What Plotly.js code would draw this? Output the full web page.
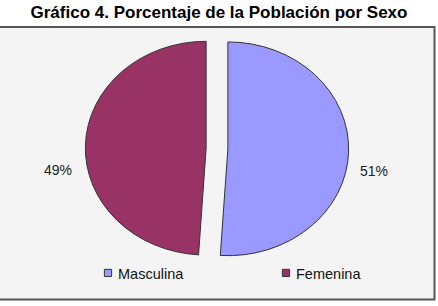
<!DOCTYPE html>
<html>
<head>
<meta charset="utf-8">
<script src="https://cdn.plot.ly/plotly-3.0.1.min.js"></script>
<style>
  html, body { margin: 0; padding: 0; background: #ffffff; }
  #chart { width: 438px; height: 306px; }
</style>
</head>
<body>
<div id="chart"></div>
<script>
// Población por sexo (porcentaje)
const categories = ['Masculina', 'Femenina'];
const values = [51, 49];
const colors = ['#9999ff', '#993366'];

const W = 438, H = 306;
const px = x => x / W;           // pixel -> paper x
const py = y => 1 - y / H;       // pixel -> paper y

const total = values.reduce((a, b) => a + b, 0);
const pctText = values.map(v => Math.round(v / total * 100) + '%');

const pieCx = 217;               // centre of the pie, px
const pieCy = 148.5;
const pieBox = 233;              // square box given to the pie, px
const stretchX = 1.13;           // the pie is drawn as a wide ellipse

const trace = {
  type: 'pie',
  labels: categories,
  values: values,
  sort: false,
  direction: 'clockwise',
  rotation: 0,
  pull: [0.09, 0.09],
  textinfo: 'none',
  hoverinfo: 'label+percent',
  marker: { colors: colors, line: { color: '#333333', width: 1 } },
  domain: {
    x: [px(pieCx - pieBox / 2), px(pieCx + pieBox / 2)],
    y: [py(pieCy + pieBox / 2), py(pieCy - pieBox / 2)]
  }
};

// percentage labels beside each half
const labelPos = [
  { x: 374, y: 171 },
  { x: 58, y: 170 }
];
const annotations = pctText.map((t, i) => ({
  text: t,
  xref: 'paper', yref: 'paper',
  x: px(labelPos[i].x), y: py(labelPos[i].y),
  xanchor: 'center', yanchor: 'middle',
  showarrow: false,
  font: { family: 'Liberation Sans, Arial, sans-serif', size: 14, color: '#222222' }
}));

const layout = {
  width: W, height: H,
  margin: { l: 0, r: 0, t: 0, b: 0, autoexpand: false },
  paper_bgcolor: '#ffffff',
  title: {
    text: '<b>Gráfico 4. Porcentaje de la Población por Sexo</b>',
    x: 0.5, xanchor: 'center',
    y: py(12), yanchor: 'middle',
    font: { family: 'Liberation Sans, Arial, sans-serif', size: 17, color: '#000000' }
  },
  shapes: [{
    type: 'rect', xref: 'paper', yref: 'paper', layer: 'below',
    x0: px(-2), x1: px(434.5), y0: py(299.5), y1: py(27),
    fillcolor: '#f4f4f4',
    line: { color: '#555555', width: 2 }
  }],
  showlegend: true,
  legend: {
    orientation: 'h',
    x: px(78), xanchor: 'left',
    y: py(273), yanchor: 'middle',
    bgcolor: 'rgba(0,0,0,0)',
    entrywidth: 133,
    entrywidthmode: 'pixels',
    traceorder: 'normal',
    font: { family: 'Liberation Sans, Arial, sans-serif', size: 14.5, color: '#111111' }
  },
  annotations: annotations
};

Plotly.newPlot('chart', [trace], layout, { displayModeBar: false, staticPlot: true }).then(gd => {
  // widen the pie horizontally around its centre
  const pie = gd.querySelector('.pielayer');
  if (pie) {
    pie.setAttribute('transform',
      `translate(${pieCx},0) scale(${stretchX},1) translate(${-pieCx},0)`);
    pie.querySelectorAll('path').forEach(p => p.setAttribute('vector-effect', 'non-scaling-stroke'));
  }
  // smaller legend swatches, sitting close to their labels
  gd.querySelectorAll('.legend .legendpoints path').forEach(p => {
    p.setAttribute('transform', 'translate(30,0) scale(0.6)');
    p.setAttribute('vector-effect', 'non-scaling-stroke');
  });
});
</script>
</body>
</html>
